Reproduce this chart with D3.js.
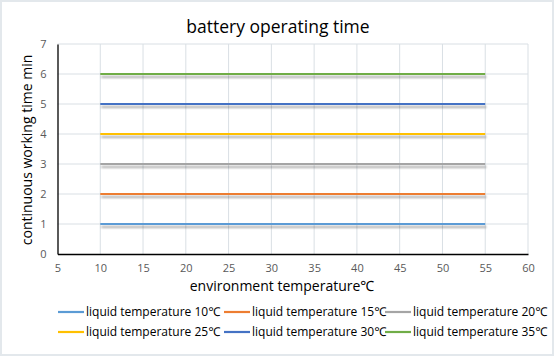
<!DOCTYPE html>
<html><head><meta charset="utf-8">
<script src="https://cdn.jsdelivr.net/npm/d3@7"></script>
<style>body{margin:0;background:#fff}svg{display:block}</style>
</head><body>
<svg id="c" width="554" height="356"></svg>
<script>
const xValues = [10, 15, 20, 25, 30, 35, 40, 45, 50, 55];
const seriesNames = ["liquid temperature 10℃","liquid temperature 15℃","liquid temperature 20℃","liquid temperature 25℃","liquid temperature 30℃","liquid temperature 35℃"];
const s10 = [1,1,1,1,1,1,1,1,1,1];
const s15 = [2,2,2,2,2,2,2,2,2,2];
const s20 = [3,3,3,3,3,3,3,3,3,3];
const s25 = [4,4,4,4,4,4,4,4,4,4];
const s30 = [5,5,5,5,5,5,5,5,5,5];
const s35 = [6,6,6,6,6,6,6,6,6,6];
const seriesValues = [s10, s15, s20, s25, s30, s35];
const colors = ["#5B9BD5","#ED7D31","#A5A5A5","#FFC000","#4472C4","#70AD47"];
const xTicks = [5,10,15,20,25,30,35,40,45,50,55,60];
const yTicks = [0,1,2,3,4,5,6,7];

const svg = d3.select("#c");
const font = "'Open Sans', 'Noto Sans', sans-serif";
svg.append("rect").attr("x",1).attr("y",1).attr("width",552).attr("height",354)
  .attr("fill","#fff").attr("stroke","#e3e8ec").attr("stroke-width",2);

const defs = svg.append("defs");
const f = defs.append("filter").attr("id","sh").attr("filterUnits","userSpaceOnUse")
  .attr("x",0).attr("y",0).attr("width",554).attr("height",356);
f.append("feGaussianBlur").attr("in","SourceAlpha").attr("stdDeviation",1.3).attr("result","b");
f.append("feOffset").attr("in","b").attr("dy",2.5).attr("dx",0.5).attr("result","o");
f.append("feComponentTransfer").attr("in","o").attr("result","t").append("feFuncA").attr("type","linear").attr("slope",0.33);
const m = f.append("feMerge"); m.append("feMergeNode").attr("in","t"); m.append("feMergeNode").attr("in","SourceGraphic");

const x = d3.scaleLinear().domain([5,60]).range([57.5,528]);
const y = d3.scaleLinear().domain([0,7]).range([254,44]);

// gridlines
svg.append("g").selectAll("line.v").data(xTicks.slice(1)).join("line")
  .attr("x1",d=>x(d)).attr("x2",d=>x(d)).attr("y1",y(0)).attr("y2",y(7))
  .attr("stroke","#d9dfe4").attr("stroke-width",1);
svg.append("g").selectAll("line.h").data(yTicks.slice(1)).join("line")
  .attr("x1",x(5)).attr("x2",x(60)).attr("y1",d=>y(d)).attr("y2",d=>y(d))
  .attr("stroke","#d9dfe4").attr("stroke-width",1);

// axes
const xa = svg.append("g").attr("transform",`translate(0,${y(0)})`)
  .call(d3.axisBottom(x).tickValues(xTicks).tickFormat(d3.format("d")).tickSize(0).tickPadding(10));
const ya = svg.append("g").attr("transform",`translate(${x(5)},0)`)
  .call(d3.axisLeft(y).tickValues(yTicks).tickFormat(d3.format("d")).tickSize(0).tickPadding(11));
[xa,ya].forEach(a=>{
  a.select(".domain").attr("stroke","#000").attr("stroke-width",1.3);
  a.selectAll("text").attr("fill","#595959").attr("font-size",11).attr("font-family",font);
});

// lines
const line = d3.line().x((d,i)=>x(xValues[i])).y(d=>y(d));
svg.append("g").selectAll("path").data(seriesValues).join("path")
  .attr("d",line).attr("fill","none").attr("stroke",(d,i)=>colors[i])
  .attr("stroke-width",2.2).attr("filter","url(#sh)");

// title
svg.append("text").attr("x",278).attr("y",33).attr("text-anchor","middle")
  .attr("font-family",font).attr("font-size",17.5).attr("fill","#000").text("battery operating time");
svg.append("text").attr("x",282).attr("y",291).attr("text-anchor","middle")
  .attr("font-family",font).attr("font-size",14).attr("fill","#000").text("environment temperature℃");
svg.append("text").attr("transform","translate(32,150) rotate(-90)").attr("text-anchor","middle")
  .attr("font-family",font).attr("font-size",14).attr("fill","#000").text("continuous working time min");

// legend
const legX = [58, 224, 385];
const legY = [312, 332];
const lg = svg.append("g").selectAll("g").data(seriesNames).join("g")
  .attr("transform",(d,i)=>`translate(${legX[i%3]},${legY[Math.floor(i/3)]})`);
lg.append("line").attr("x1",0).attr("x2",26).attr("y1",0).attr("y2",0)
  .attr("stroke",(d,i)=>colors[i]).attr("stroke-width",2.2);
lg.append("text").attr("x",28).attr("y",4).attr("font-family",font).attr("font-size",12)
  .attr("fill","#000").text(d=>d);
</script>
</body></html>
